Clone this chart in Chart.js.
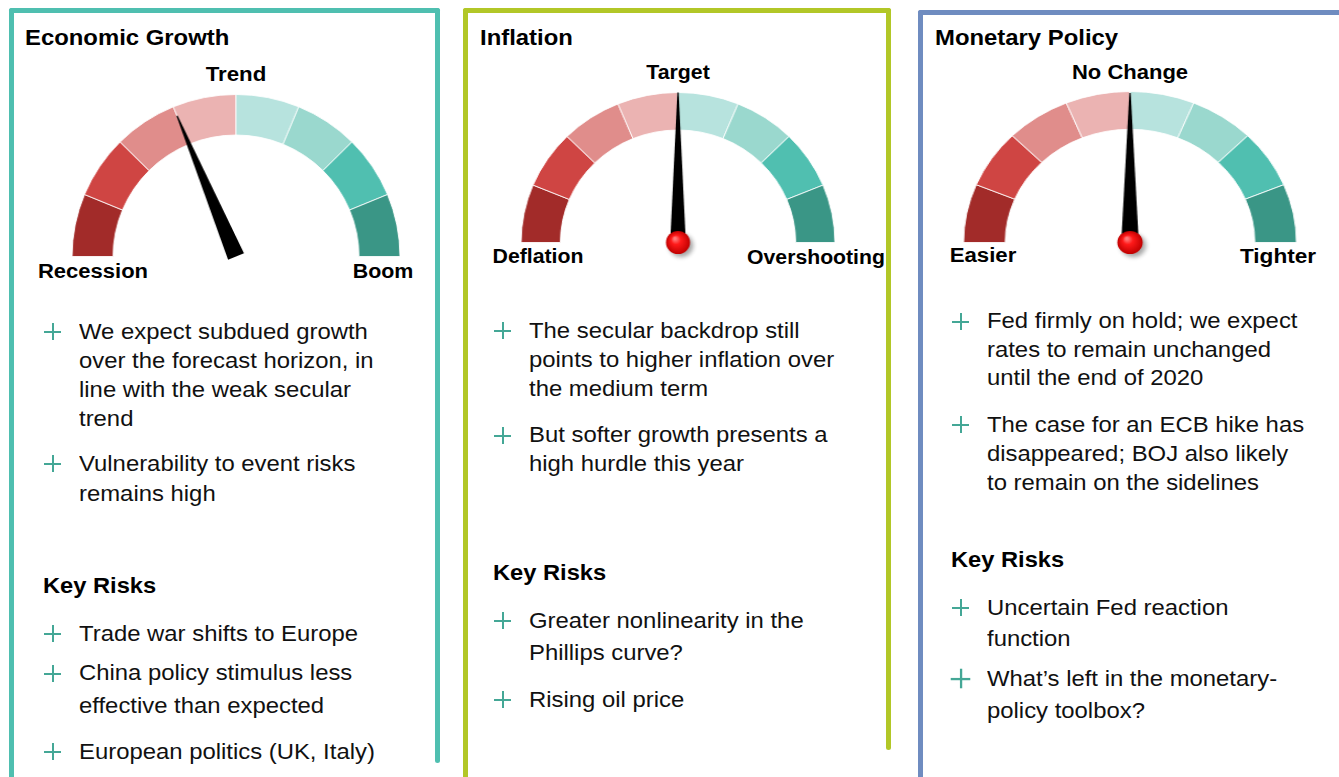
<!DOCTYPE html>
<html>
<head>
<meta charset="utf-8">
<title>Macro dashboard gauges</title>
<script src="https://cdn.jsdelivr.net/npm/chart.js@4.4.1/dist/chart.umd.min.js"></script>
<style>
  html, body { margin: 0; padding: 0; background: #fff; }
  body {
    width: 1339px; height: 777px; position: relative; overflow: hidden;
    font-family: "Liberation Sans", Arial, sans-serif; color: #111;
  }
  .rule { position: absolute; border-radius: 3px; }
  .txt { position: absolute; white-space: nowrap; transform-origin: 0 0; }
  .plus { position: absolute; width: 17px; height: 17px; }
  .plus::before, .plus::after { content: ""; position: absolute; background: #44a796; }
  .plus::before { left: 0; top: 8px; width: 17px; height: 2px; }
  .plus::after { left: 8px; top: 0; width: 2px; height: 17px; }
  .plus.big { transform: scale(1.15); }
  canvas.gauge { position: absolute; transform-origin: 50% 0; }
</style>
</head>
<body>
<script>
// ---- chart data ----
const panelTitles = ['Economic Growth', 'Inflation', 'Monetary Policy'];
const topLabels = ['Trend', 'Target', 'No Change'];
const leftLabels = ['Recession', 'Deflation', 'Easier'];
const rightLabels = ['Boom', 'Overshooting', 'Tighter'];
const segmentSizes = [1, 1, 1, 1, 1, 1, 1, 1];
const segmentColors = ['#a22b29', '#cf4543', '#e08d8b', '#ebb3b2', '#b7e3de', '#9ad8ce', '#50bfb0', '#3a9686'];
const needleValues = [3, 4, 4]; // needle position on the 0..8 dial

const viewPoints = [
  [['We expect subdued growth', 'over the forecast horizon, in', 'line with the weak secular', 'trend'],
   ['Vulnerability to event risks', 'remains high']],
  [['The secular backdrop still', 'points to higher inflation over', 'the medium term'],
   ['But softer growth presents a', 'high hurdle this year']],
  [['Fed firmly on hold; we expect', 'rates to remain unchanged', 'until the end of 2020'],
   ['The case for an ECB hike has', 'disappeared; BOJ also likely', 'to remain on the sidelines']]
];
const keyRisks = [
  [['Trade war shifts to Europe'], ['China policy stimulus less', 'effective than expected'], ['European politics (UK, Italy)']],
  [['Greater nonlinearity in the', 'Phillips curve?'], ['Rising oil price']],
  [['Uncertain Fed reaction', 'function'], ['What\u2019s left in the monetary-', 'policy toolbox?']]
];

// ---- layout ----
const TEXT_STRETCH = 1.085;
const panels = [
  { color: '#4fbfb0', x0: 9, x1: 440, y0: 8, rightEnd: 763, titleX: 25, titleY: 45.7,
    gauge: { cx: 235.5, bottom: 257, r: 163, sx: 1.012, needle: { base: 8.5, length: 0.94, ball: false } },
    top: { y: 81.7, size: 21, sx: 1.06 }, left: { cx: 93, y: 277.7, size: 20, sx: 1.1 }, right: { cx: 383, y: 278.3, size: 20, sx: 1.07 },
    plusX: 44, textX: 79, keyX: 43,
    views: [{ y: 339.3, lh: 29.1 }, { y: 471.7, lh: 30 }], keyY: 593.3,
    risks: [{ y: 641.7, lh: 32 }, { y: 681, lh: 32.3 }, { y: 759.3, lh: 32 }] },
  { color: '#b2c727', x0: 463, x1: 891, y0: 8, rightEnd: 750, titleX: 480, titleY: 45.7,
    gauge: { cx: 678, bottom: 243, r: 151, sx: 1.046, needle: { base: 7.5, length: 1.0, ball: true } },
    top: { y: 79.3, size: 20, sx: 1.065 }, left: { cx: 537.5, y: 263.3, size: 20, sx: 1.063 }, right: { cx: 816, y: 263.5, size: 20, sx: 1.06 },
    plusX: 494, textX: 529, keyX: 493,
    views: [{ y: 338.3, lh: 29 }, { y: 443.3, lh: 28.5 }], keyY: 580.7,
    risks: [{ y: 628.3, lh: 31.7 }, { y: 707.3, lh: 31.7 }] },
  { color: '#6f8cc0', x0: 918, x1: null, y0: 10, rightEnd: null, titleX: 935, titleY: 46,
    gauge: { cx: 1129.5, bottom: 243, r: 152, sx: 1.102, needle: { base: 8, length: 0.99, ball: true } },
    top: { y: 79.3, size: 20, sx: 1.1 }, left: { cx: 983.3, y: 261.7, size: 20, sx: 1.11 }, right: { cx: 1278.3, y: 263.3, size: 20, sx: 1.13 },
    plusX: 952, textX: 987, keyX: 951,
    views: [{ y: 329.3, lh: 28.5 }, { y: 432.3, lh: 29 }], keyY: 567.3,
    risks: [{ y: 615, lh: 31.7 }, { y: 686.7, lh: 31.7, big: true }] }
];

const BODY_SIZE = 22;
const PAD = 22;

// top of a line box so that the first baseline lands on y (Liberation Sans metrics)
function topFor(baseline, size, lh) {
  return baseline - ((lh - 1.117 * size) / 2 + 0.905 * size);
}

function addRule(x, y, w, h, color) {
  const d = document.createElement('div');
  d.className = 'rule';
  Object.assign(d.style, { left: x + 'px', top: y + 'px', width: w + 'px', height: h + 'px', background: color });
  document.body.appendChild(d);
}

function addText(html, x, baseline, size, lh, opts = {}) {
  const d = document.createElement('div');
  d.className = 'txt';
  d.innerHTML = html;
  const sx = opts.sx || TEXT_STRETCH;
  Object.assign(d.style, {
    left: x + 'px', top: topFor(baseline, size, lh) + 'px',
    fontSize: size + 'px', lineHeight: lh + 'px',
    fontWeight: opts.bold ? 'bold' : 'normal',
    color: opts.bold ? '#000' : '#111',
    transform: (opts.center ? 'translateX(-50%) ' : '') + 'scaleX(' + sx + ')'
  });
  if (opts.center) d.style.transformOrigin = '50% 0';
  document.body.appendChild(d);
  return d;
}

function addBullet(lines, p, pos) {
  addText(lines.join('<br>'), p.textX, pos.y, BODY_SIZE, pos.lh);
  const plus = document.createElement('div');
  plus.className = pos.big ? 'plus big' : 'plus';
  plus.style.left = p.plusX + 'px';
  plus.style.top = Math.round(pos.y - 7.5 - 9) + 'px';
  document.body.appendChild(plus);
}

const needlePlugin = {
  id: 'needle',
  afterDatasetsDraw(chart, args, opts) {
    const arcs = chart.getDatasetMeta(0).data;
    const first = arcs[0], last = arcs[arcs.length - 1];
    const total = segmentSizes.reduce((a, b) => a + b, 0);
    const angle = first.startAngle + (opts.value / total) * (last.endAngle - first.startAngle);
    const cx = first.x, cy = first.y, r = first.outerRadius;
    const ctx = chart.ctx;

    ctx.save();
    ctx.translate(cx, cy);
    ctx.rotate(angle);
    ctx.beginPath();
    ctx.moveTo(0, -opts.base);
    ctx.lineTo(r * opts.length, -0.6);
    ctx.lineTo(r * opts.length, 0.6);
    ctx.lineTo(0, opts.base);
    ctx.closePath();
    ctx.fillStyle = '#000';
    ctx.fill();
    ctx.restore();

    if (opts.ball) {
      const br = 11.5;
      ctx.save();
      ctx.shadowColor = 'rgba(0,0,0,0.35)';
      ctx.shadowBlur = 4;
      ctx.shadowOffsetX = 3;
      ctx.shadowOffsetY = 3;
      const g = ctx.createRadialGradient(cx - 3, cy - 4, 1, cx, cy, br);
      g.addColorStop(0, '#ff7a7a');
      g.addColorStop(0.35, '#ff1a1a');
      g.addColorStop(1, '#c00000');
      ctx.beginPath();
      ctx.arc(cx, cy, br, 0, Math.PI * 2);
      ctx.fillStyle = g;
      ctx.fill();
      ctx.restore();
    }
  }
};

panels.forEach((p, i) => {
  // frame
  const right = p.x1 === null ? 1345 : p.x1;
  addRule(p.x0, p.y0, right - p.x0, 5, p.color);
  addRule(p.x0, p.y0, 5, 800, p.color);
  if (p.rightEnd !== null) addRule(p.x1 - 5, p.y0, 5, p.rightEnd - p.y0, p.color);

  // headings
  addText(panelTitles[i], p.titleX, p.titleY, 22, 26, { bold: true });
  addText(topLabels[i], p.gauge.cx, p.top.y, p.top.size, 24, { bold: true, sx: p.top.sx, center: true });
  addText(leftLabels[i], p.left.cx, p.left.y, p.left.size, 24, { bold: true, sx: p.left.sx, center: true });
  addText(rightLabels[i], p.right.cx, p.right.y, p.right.size, 24, { bold: true, sx: p.right.sx, center: true });

  // gauge
  const g = p.gauge;
  const canvas = document.createElement('canvas');
  canvas.className = 'gauge';
  canvas.width = 2 * g.r;
  canvas.height = g.r + PAD;
  Object.assign(canvas.style, {
    left: (g.cx - g.r) + 'px', top: (g.bottom - g.r) + 'px',
    width: 2 * g.r + 'px', height: (g.r + PAD) + 'px',
    transform: 'scaleX(' + g.sx + ')'
  });
  document.body.appendChild(canvas);

  new Chart(canvas, {
    type: 'doughnut',
    data: {
      labels: segmentSizes.map((_, k) => 'Zone ' + (k + 1)),
      datasets: [{
        data: segmentSizes,
        backgroundColor: segmentColors,
        borderColor: 'rgba(255,255,255,0.85)',
        borderWidth: 1
      }]
    },
    options: {
      responsive: false,
      animation: false,
      events: [],
      rotation: -90,
      circumference: 180,
      cutout: '75%',
      layout: { padding: { bottom: PAD } },
      plugins: {
        legend: { display: false },
        tooltip: { enabled: false },
        needle: Object.assign({ value: needleValues[i] }, g.needle)
      }
    },
    plugins: [needlePlugin]
  });

  // commentary
  viewPoints[i].forEach((lines, k) => addBullet(lines, p, p.views[k]));
  addText('Key Risks', p.keyX, p.keyY, 22, 26, { bold: true, sx: 1.076 });
  keyRisks[i].forEach((lines, k) => addBullet(lines, p, p.risks[k]));
});
</script>
</body>
</html>
